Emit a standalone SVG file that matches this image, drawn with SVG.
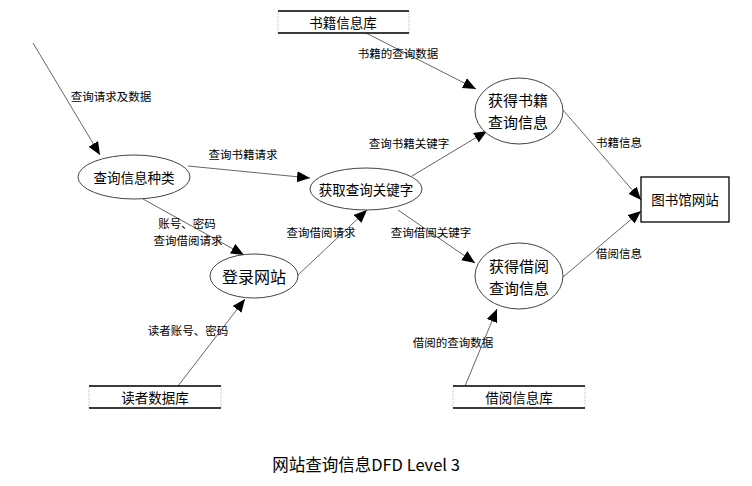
<svg xmlns="http://www.w3.org/2000/svg" width="752" height="486" viewBox="0 0 752 486">
<style>
text{font-family:"Noto Sans CJK SC","Liberation Sans",sans-serif;fill:#000;text-anchor:middle;dominant-baseline:central}
.lbl{font-size:11.5px}
.nd{font-size:13.5px}
.big{font-size:15px}
.proc{fill:#fff;stroke:#444;stroke-width:1}
.flow{stroke:#666;stroke-width:1;fill:none;marker-end:url(#ah)}
.sline{stroke:#000;stroke-width:1.3}
.sside{stroke:#bbb;stroke-width:1;stroke-dasharray:1 1}
</style>
<defs>
<marker id="ah" markerUnits="userSpaceOnUse" markerWidth="14" markerHeight="12" refX="13" refY="5.5" orient="auto">
<path d="M0,0 L13,5.5 L0,11 z" fill="#000"/>
</marker>
</defs>
<rect width="752" height="486" fill="#fff"/>
<g id="connectors">
<line class="flow" x1="33" y1="43" x2="100" y2="155"/>
<line class="flow" x1="188" y1="166" x2="310" y2="178"/>
<line class="flow" x1="143" y1="199" x2="244" y2="255"/>
<line class="flow" x1="298" y1="275" x2="367" y2="210"/>
<line class="flow" x1="178" y1="386" x2="245" y2="299"/>
<line class="flow" x1="412" y1="176" x2="487" y2="131"/>
<line class="flow" x1="398" y1="210" x2="475" y2="263"/>
<line class="flow" x1="366" y1="33" x2="476" y2="89"/>
<line class="flow" x1="465" y1="386" x2="497" y2="309"/>
<line class="flow" x1="563" y1="110" x2="641" y2="200"/>
<line class="flow" x1="563" y1="277" x2="641" y2="211"/>
<text class="lbl" x="111" y="96">查询请求及数据</text>
<text class="lbl" x="243" y="154">查询书籍请求</text>
<text class="lbl" x="187" y="223">账号、密码</text>
<text class="lbl" x="188" y="240">查询借阅请求</text>
<text class="lbl" x="321" y="232">查询借阅请求</text>
<text class="lbl" x="188" y="330">读者账号、密码</text>
<text class="lbl" x="409" y="143">查询书籍关键字</text>
<text class="lbl" x="431" y="232">查询借阅关键字</text>
<text class="lbl" x="398" y="53">书籍的查询数据</text>
<text class="lbl" x="453" y="342">借阅的查询数据</text>
<text class="lbl" x="619" y="142">书籍信息</text>
<text class="lbl" x="619" y="253">借阅信息</text>
</g>
<g id="store-books">
<rect class="sside" x="278" y="11" width="131" height="22" fill="none"/>
<line class="sline" x1="278" y1="11" x2="409" y2="11"/>
<line class="sline" x1="278" y1="33" x2="409" y2="33"/>
<text class="nd" x="343" y="22">书籍信息库</text>
</g>
<g id="store-readers">
<rect class="sside" x="89" y="386" width="132" height="22" fill="none"/>
<line class="sline" x1="89" y1="386" x2="221" y2="386"/>
<line class="sline" x1="89" y1="408" x2="221" y2="408"/>
<text class="nd" x="155" y="397">读者数据库</text>
</g>
<g id="store-borrow">
<rect class="sside" x="453" y="386" width="132" height="22" fill="none"/>
<line class="sline" x1="453" y1="386" x2="585" y2="386"/>
<line class="sline" x1="453" y1="408" x2="585" y2="408"/>
<text class="nd" x="519" y="397">借阅信息库</text>
</g>
<g id="p-query-type">
<ellipse class="proc" cx="134" cy="177" rx="56" ry="22"/>
<text class="nd" x="134" y="177">查询信息种类</text>
</g>
<g id="p-get-keyword">
<ellipse class="proc" cx="366" cy="189" rx="56" ry="21"/>
<text class="nd" x="366" y="189">获取查询关键字</text>
</g>
<g id="p-login">
<ellipse class="proc" cx="254" cy="276" rx="44" ry="22"/>
<text class="big" x="254" y="276" style="font-size:16px">登录网站</text>
</g>
<g id="p-book-info">
<ellipse class="proc" cx="519" cy="111" rx="44" ry="33"/>
<text class="big" x="518" y="99.5">获得书籍</text>
<text class="big" x="518" y="121.5">查询信息</text>
</g>
<g id="p-borrow-info">
<ellipse class="proc" cx="519" cy="276" rx="44" ry="33"/>
<text class="big" x="519" y="265.5">获得借阅</text>
<text class="big" x="519" y="287.5">查询信息</text>
</g>
<g id="e-library">
<rect x="641" y="177" width="88" height="45" fill="#fff" stroke="#000" stroke-width="1.3"/>
<text class="nd" x="685" y="199">图书馆网站</text>
</g>
<text x="366" y="464" style="font-size:16.5px">网站查询信息DFD Level 3</text>
</svg>
